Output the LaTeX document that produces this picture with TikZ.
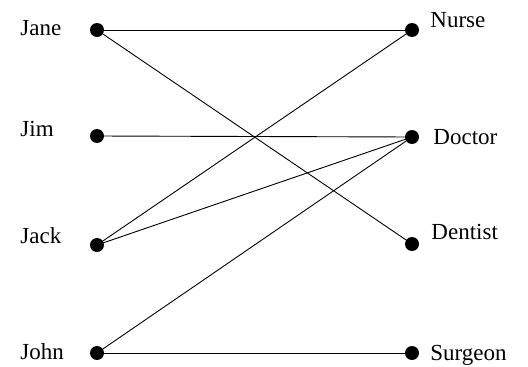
\documentclass[tikz,border=0pt]{standalone}
\usepackage{fontspec}
\setmainfont{Liberation Serif}
\begin{document}
\begin{tikzpicture}[x=1pt, y=-1pt, line width=0.9pt, dot/.style={circle, fill=black, inner sep=0pt, minimum size=14pt}, tag/.style={font=\fontsize{23}{26}\selectfont, inner sep=0pt, anchor=west}]
            \useasboundingbox (0,0) rectangle (528,367);
            \node[dot] (jane) at (97,30) {};
            \node[dot] (jim) at (97,136) {};
            \node[dot] (jack) at (97,245) {};
            \node[dot] (john) at (97,353) {};
            \node[dot] (nurse) at (412,30) {};
            \node[dot] (doctor) at (412,137) {};
            \node[dot] (dentist) at (412,244) {};
            \node[dot] (surgeon) at (412,353) {};
            \node[tag] (janel) at (20,28) {Jane};
            \node[tag] (jiml) at (20,129) {Jim};
            \node[tag] (jackl) at (20,236) {Jack};
            \node[tag] (johnl) at (20,352) {John};
            \node[tag] (nursel) at (430,20) {Nurse};
            \node[tag] (doctorl) at (433,137) {Doctor};
            \node[tag] (dentistl) at (431,232) {Dentist};
            \node[tag] (surgeonl) at (430,355) {Surgeon};
            \draw (jane.center) -- (nurse.center);
            \draw (jane.center) -- (dentist.center);
            \draw (jim.center) -- (doctor.center);
            \draw (jack.center) -- (nurse.center);
            \draw (jack.center) -- (doctor.center);
            \draw (john.center) -- (doctor.center);
            \draw (john.center) -- (surgeon.center);
        \end{tikzpicture}
\end{document}
